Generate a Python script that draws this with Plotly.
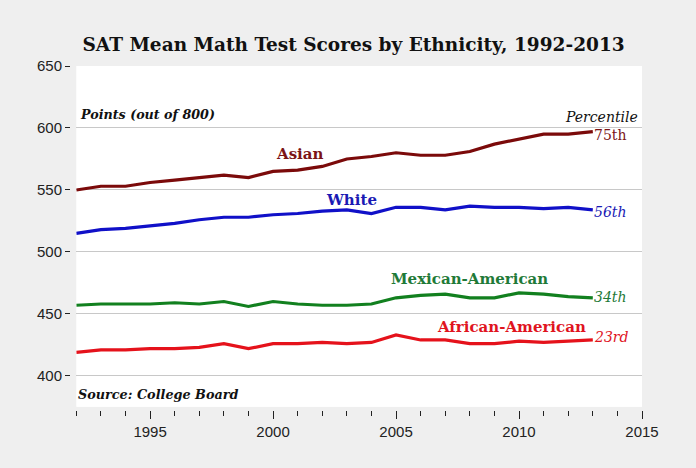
import plotly.graph_objects as go

years = list(range(1992, 2014))
asian = [550, 553, 553, 556, 558, 560, 562, 560, 565, 566, 569, 575, 577, 580, 578, 578, 581, 587, 591, 595, 595, 597]
white = [515, 518, 519, 521, 523, 526, 528, 528, 530, 531, 533, 534, 531, 536, 536, 534, 537, 536, 536, 535, 536, 534]
mexican = [457, 458, 458, 458, 459, 458, 460, 456, 460, 458, 457, 457, 458, 463, 465, 466, 463, 463, 467, 466, 464, 463]
african = [419, 421, 421, 422, 422, 423, 426, 422, 426, 426, 427, 426, 427, 433, 429, 429, 426, 426, 428, 427, 428, 429]

series = [
    ("Asian", asian, "#7b0a0a"),
    ("White", white, "#1010c8"),
    ("Mexican-American", mexican, "#12801f"),
    ("African-American", african, "#e5121b"),
]

fig = go.Figure()
for name, vals, col in series:
    fig.add_trace(go.Scatter(x=years, y=vals, mode="lines", name=name,
                             line=dict(color=col, width=3.2), showlegend=False))

serif = "DejaVu Serif"
labels = [
    ("Asian", 2001.1, 579, "#7b1416", "center", "<b>Asian</b>"),
    ("White", 2003.2, 542, "#1a1ab4", "center", "<b>White</b>"),
    ("Mexican", 2008.0, 478, "#1f7a38", "center", "<b>Mexican-American</b>"),
    ("African", 2009.7, 439.5, "#e0141e", "center", "<b>African-American</b>"),
]
for _, x, y, c, xa, t in labels:
    fig.add_annotation(x=x, y=y, text=t, showarrow=False, xanchor=xa,
                       font=dict(family=serif, size=15, color=c))

pct = [
    ("75th", 594, "#7b1416", False),
    ("56th", 532.3, "#1a1ab4", True),
    ("34th", 463.7, "#1f7a38", True),
    ("23rd", 431.5, "#e0141e", True),
]
for t, y, c, it in pct:
    txt = f"<i>{t}</i>" if it else t
    fig.add_annotation(x=2012.95, y=y, text=txt, showarrow=False, xanchor="left",
                       font=dict(family=serif, size=14, color=c))

fig.add_annotation(x=1992.05, y=610.5, text="<b><i>Points (out of 800)</i></b>", showarrow=False,
                   xanchor="left", font=dict(family=serif, size=12.7, color="#111"))
fig.add_annotation(x=2014.9, y=609, text="<i>Percentile</i>", showarrow=False,
                   xanchor="right", font=dict(family=serif, size=14, color="#111"))
fig.add_annotation(x=1992.0, y=385, text="<b><i>Source: College Board</i></b>", showarrow=False,
                   xanchor="left", font=dict(family=serif, size=12.8, color="#111"))

fig.update_layout(
    width=696, height=468,
    margin=dict(l=70, r=54, t=66, b=58),
    paper_bgcolor="#efefef", plot_bgcolor="#ffffff",
    title=dict(text="<b>SAT Mean Math Test Scores by Ethnicity, 1992-2013</b>",
               x=0.508, xanchor="center", y=0.905, yanchor="middle",
               font=dict(family=serif, size=18.5, color="#111")),
    xaxis=dict(range=[1992, 2015], domain=[0.011, 1], anchor="free", position=0,
               tick0=1995, dtick=5, ticks="outside", ticklen=8, tickcolor="#222",
               minor=dict(dtick=1, tick0=1992, ticks="outside", ticklen=5, tickcolor="#222"),
               showgrid=False, zeroline=False, showline=False,
               tickfont=dict(family="Liberation Sans Narrow, Liberation Sans", size=15, color="#222")),
    yaxis=dict(range=[375, 650], domain=[0.009, 1], anchor="free", position=0,
               tickvals=[400, 450, 500, 550, 600, 650], ticks="outside", ticklen=5,
               tickcolor="#222", showgrid=True, gridcolor="#c8c8c8", gridwidth=1,
               zeroline=False, showline=False,
               tickfont=dict(family="Liberation Sans Narrow, Liberation Sans", size=15, color="#222")),
)

fig.write_html("out.html")
